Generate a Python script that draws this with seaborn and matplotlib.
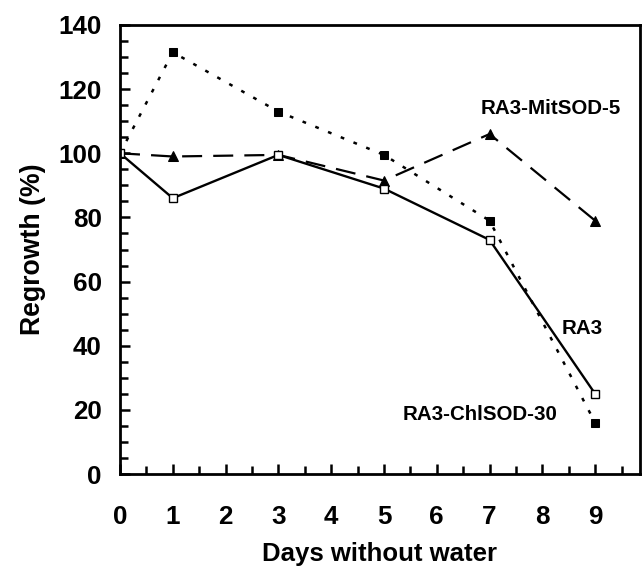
import matplotlib
matplotlib.use("Agg")
import matplotlib.pyplot as plt
import seaborn as sns
import pandas as pd
from matplotlib.ticker import MultipleLocator

days = [0, 1, 3, 5, 7, 9]
ra3 = [100, 86, 99.5, 89, 73, 25]
chlsod = [100, 131.5, 113, 99.5, 79, 16]
mitsod = [100, 99, 99.5, 91.5, 106, 79]
xticks = [0, 1, 2, 3, 4, 5, 6, 7, 8, 9]
yticks = [0, 20, 40, 60, 80, 100, 120, 140]

sns.set_theme(style="ticks")
plt.rcParams['font.family'] = ['Liberation Sans', 'DejaVu Sans']
plt.rcParams['font.weight'] = 'bold'
plt.rcParams['text.color'] = 'black'
plt.rcParams['axes.labelcolor'] = 'black'
plt.rcParams['xtick.color'] = 'black'
plt.rcParams['ytick.color'] = 'black'

fig = plt.figure(figsize=(6.42, 5.70), dpi=100)
ax = fig.add_axes([120 / 642, 96 / 570, 520 / 642, 449 / 570])

df = pd.DataFrame({"day": days, "ra3": ra3, "chl": chlsod, "mit": mitsod})

sns.lineplot(data=df, x="day", y="chl", ax=ax, color="black", linestyle=(0, (1.5, 4)),
             lw=1.8, marker="s", markersize=6, markerfacecolor="black", markeredgecolor="black")
sns.lineplot(data=df, x="day", y="mit", ax=ax, color="black", linestyle=(0, (9, 5)),
             lw=1.6, marker="^", markersize=6.5, markerfacecolor="black", markeredgecolor="black")
sns.lineplot(data=df, x="day", y="ra3", ax=ax, color="black", linestyle="-",
             lw=1.7, marker="s", markersize=6, markerfacecolor="white", markeredgecolor="black",
             markeredgewidth=1.0)

ax.set_xlim(0, 9.85)
ax.set_ylim(0, 140)
ax.set_xticks(xticks)
ax.set_yticks(yticks)
ax.xaxis.set_minor_locator(MultipleLocator(0.5))
ax.yaxis.set_minor_locator(MultipleLocator(5))
ax.tick_params(axis='both', which='both', direction='in', width=1.8, colors='black')
ax.tick_params(axis='both', which='major', length=7, labelsize=18.7)
ax.tick_params(axis='both', which='minor', length=6)
ax.tick_params(axis='x', which='major', pad=22)
ax.tick_params(axis='y', which='major', pad=13)
for lab in ax.get_xticklabels() + ax.get_yticklabels():
    lab.set_fontweight('bold')
for s in ax.spines.values():
    s.set_linewidth(2)
    s.set_color('black')

ax.set_xlabel("Days without water", fontsize=18.5, fontweight='bold', labelpad=10)
ax.set_ylabel("Regrowth (%)", fontsize=19.2, fontweight='bold', labelpad=9)

ax.text(8.16, 114, "RA3-MitSOD-5", fontsize=14.8, fontweight='bold', ha='center', va='center')
ax.text(8.75, 45.5, "RA3", fontsize=14.8, fontweight='bold', ha='center', va='center')
ax.text(6.82, 18.4, "RA3-ChlSOD-30", fontsize=14.8, fontweight='bold', ha='center', va='center')

fig.savefig("out.png", dpi=100)
